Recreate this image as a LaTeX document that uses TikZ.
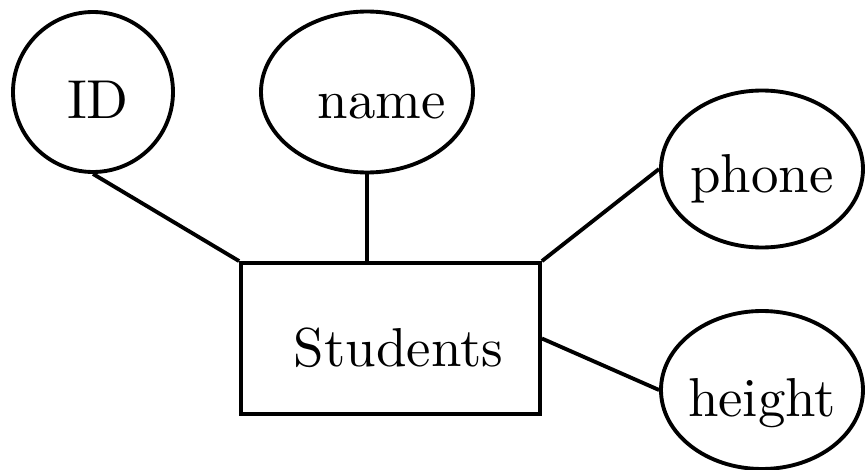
\documentclass[tikz,border=0pt]{standalone}
\usepackage{graphicx}
\usetikzlibrary{shapes.geometric}
\newcommand\ertext[2][0pt]{\makebox[0pt]{\hspace*{#1}\scalebox{1.56}{#2}}}
\tikzset{
  attr/.style={draw, ellipse, line width=1.1pt, inner sep=0pt, text height=15pt, text depth=0pt},
  entity/.style={draw, rectangle, line width=1.1pt, minimum width=2.99cm, minimum height=1.51cm, inner sep=0pt, text height=16pt, text depth=0pt}
}
\begin{document}
\begin{tikzpicture}
      \useasboundingbox (0,0) rectangle (8.65,4.70);
      \draw
        (0.93,3.78) node[attr, minimum width=1.60cm, minimum height=1.60cm] (id){\ertext[2.8pt]{ID}}
        (3.67,3.78) node[attr, minimum width=2.12cm, minimum height=1.61cm] (name){\ertext[8.5pt]{name}}
        (7.62,3.01) node[attr, minimum width=2.02cm, minimum height=1.57cm, text height=13.1pt] (phone){\ertext{phone}}
        (7.62,0.80) node[attr, minimum width=2.02cm, minimum height=1.58cm] (height){\ertext{height}}
        (3.905,1.315) node[entity] (students){\ertext[4.5pt]{Students}};
      \begin{scope}[line width=1.1pt]
        \draw (id.south) to (students.north west);
        \draw (name.south) to (name.south |- students.north);
        \draw (students.north east) to (phone.west);
        \draw (students.east) to (height.west);
      \end{scope}
    \end{tikzpicture}
\end{document}
